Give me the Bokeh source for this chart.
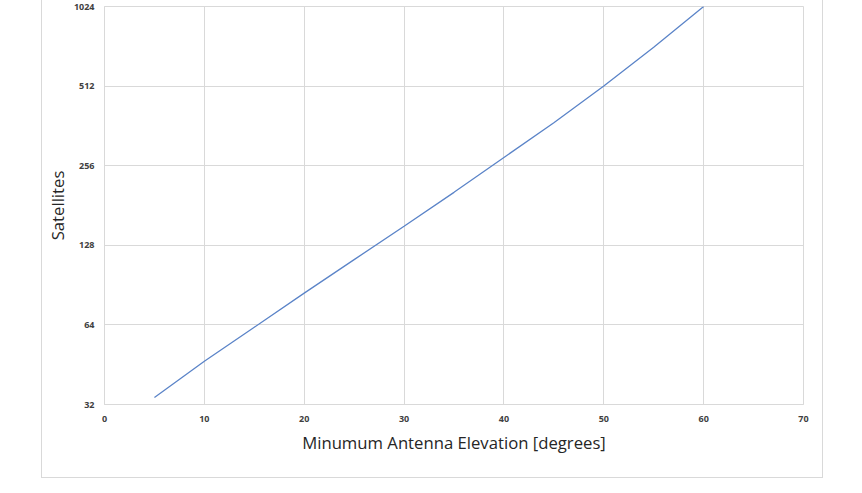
from bokeh.plotting import figure
from bokeh.models import Range1d, FixedTicker
from bokeh.embed import file_html
from bokeh.resources import INLINE

elevation = [5, 10, 15, 20, 25, 30, 35, 40, 45, 50, 55, 60]
satellites = [34, 46.6, 62.7, 84.4, 113, 151, 203, 275, 372, 512, 718, 1024]
x_ticks = [0, 10, 20, 30, 40, 50, 60, 70]
y_ticks = [32, 64, 128, 256, 512, 1024]

GRID = "#d9d9d9"
FONT = "Open Sans"

p = figure(width=782, height=498, output_backend="svg", toolbar_location=None,
           y_axis_type="log", x_range=Range1d(0, 70), y_range=Range1d(32, 1024),
           min_border_left=60, min_border_right=21, min_border_top=25, min_border_bottom=75)
p.styles = {"margin-top": "-20px", "margin-left": "41px", "border": "1px solid #d9d9d9"}

p.line(elevation, satellites, line_color="#5b84c8", line_width=1.3)

p.xaxis.ticker = FixedTicker(ticks=x_ticks)
p.yaxis.ticker = FixedTicker(ticks=y_ticks)
p.yaxis.major_label_overrides = {v: str(v) for v in y_ticks}
p.xaxis.major_label_overrides = {v: str(v) for v in x_ticks}

for ax in (p.xaxis[0], p.yaxis[0]):
    ax.axis_line_color = GRID
    ax.major_tick_line_color = None
    ax.minor_tick_line_color = None
    ax.major_tick_out = 0
    ax.major_tick_in = 0
    ax.major_label_text_font = FONT
    ax.major_label_text_font_size = "9px"
    ax.major_label_text_font_style = "bold"
    ax.major_label_text_color = "#404040"
    ax.axis_label_text_font = FONT
    ax.axis_label_text_font_size = "16.7px"
    ax.axis_label_text_font_style = "normal"
    ax.axis_label_text_color = "#262626"

p.xaxis.axis_label = "Minumum Antenna Elevation [degrees]"
p.yaxis.axis_label = "Satellites"
p.xaxis.major_label_standoff = 11
p.yaxis.major_label_standoff = 10
p.xaxis.axis_label_standoff = 6
p.yaxis.axis_label_standoff = 2

p.xgrid.grid_line_color = GRID
p.ygrid.grid_line_color = GRID
p.ygrid.minor_grid_line_color = None
p.outline_line_color = GRID

open("out.html", "w").write(file_html(p, INLINE))
